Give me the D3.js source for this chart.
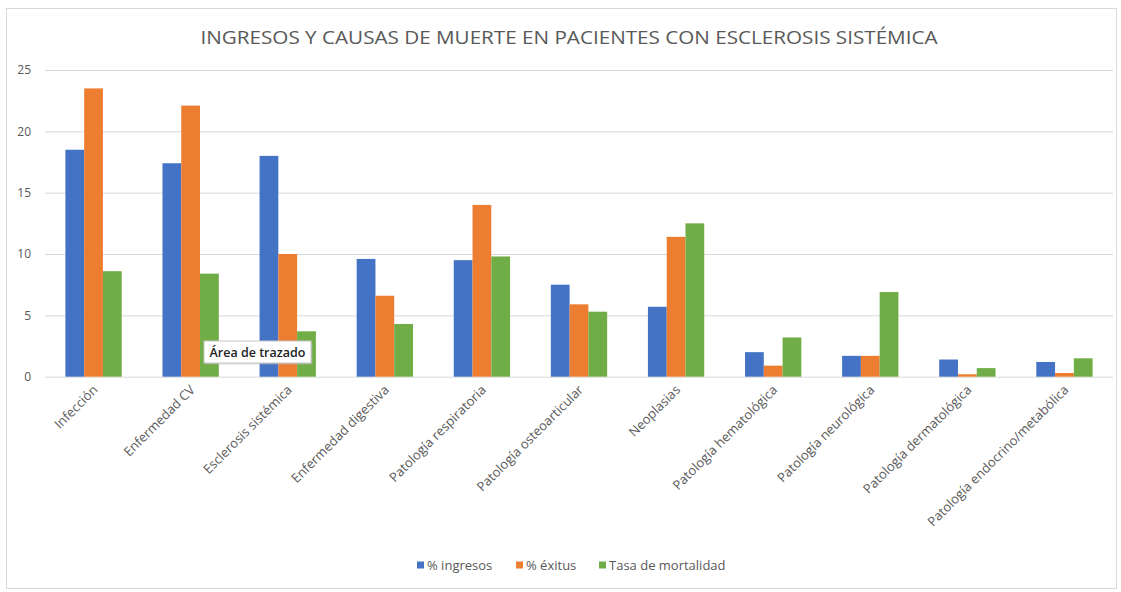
<!DOCTYPE html>
<html>
<head>
<meta charset="utf-8">
<script src="https://cdn.jsdelivr.net/npm/d3@7"></script>
<style>
  body { margin: 0; background: #fff; }
  svg text { font-family: "Open Sans", "Noto Sans", sans-serif; }
</style>
</head>
<body>
<div id="chart"></div>
<script>
// categories and series
const categories = ["Infección", "Enfermedad CV", "Esclerosis sistémica", "Enfermedad digestiva",
  "Patología respiratoria", "Patología osteoarticular", "Neoplasias", "Patología hematológica",
  "Patología neurológica", "Patología dermatológica", "Patología endocrino/metabólica"];
const seriesNames = ["% ingresos", "% éxitus", "Tasa de mortalidad"];
const ingresos = [18.5, 17.4, 18.0, 9.6, 9.5, 7.5, 5.7, 2.0, 1.7, 1.4, 1.2];
const exitus = [23.5, 22.1, 10.0, 6.6, 14.0, 5.9, 11.4, 0.9, 1.7, 0.2, 0.3];
const mortalidad = [8.6, 8.4, 3.7, 4.3, 9.8, 5.3, 12.5, 3.2, 6.9, 0.7, 1.5];
const yTicks = [0, 5, 10, 15, 20, 25];
const colors = ["#4472C4", "#ED7D31", "#70AD47"];
const title = "INGRESOS Y CAUSAS DE MUERTE EN PACIENTES CON ESCLEROSIS SISTÉMICA";

const width = 1121, height = 592;
const plotLeft = 45, plotRight = 1113, plotTop = 70, plotBottom = 376.7;

const rows = categories.map((c, i) => ({
  cat: c,
  vals: [ingresos[i], exitus[i], mortalidad[i]]
}));

const svg = d3.select("#chart").append("svg")
  .attr("width", width)
  .attr("height", height);

// outer chart border
svg.append("rect")
  .attr("x", 6.5).attr("y", 8.5)
  .attr("width", 1110).attr("height", 580)
  .attr("fill", "#fff")
  .attr("stroke", "#d9d9d9");

svg.append("text")
  .attr("x", 569).attr("y", 44)
  .attr("text-anchor", "middle")
  .attr("fill", "#595959")
  .style("font-size", "18px")
  .attr("textLength", 737)
  .attr("lengthAdjust", "spacingAndGlyphs")
  .text(title);

let x0 = d3.scaleBand()
  .domain(categories)
  .range([plotLeft, plotRight])
  .paddingInner(0.42)
  .paddingOuter(0.21);

let x1 = d3.scaleBand()
  .domain(d3.range(seriesNames.length))
  .range([0, x0.bandwidth()]);

let y = d3.scaleLinear()
  .domain([0, 25])
  .range([plotBottom, plotTop]);

// gridlines
svg.append("g")
  .attr("transform", `translate(${plotLeft},0)`)
  .call(d3.axisLeft(y).tickValues(yTicks).tickSize(-(plotRight - plotLeft)).tickFormat(""))
  .call(g => g.select(".domain").remove())
  .call(g => g.selectAll("line").attr("stroke", "#d9d9d9"));

// y labels
svg.append("g")
  .attr("transform", `translate(${plotLeft},0)`)
  .call(d3.axisLeft(y).tickValues(yTicks).tickSize(0).tickPadding(14))
  .call(g => g.select(".domain").remove())
  .call(g => g.selectAll("text").attr("fill", "#595959").style("font-size", "12px"));

// bars
svg.append("g").selectAll("g")
  .data(rows)
  .enter()
  .append("g")
  .attr("transform", d => `translate(${x0(d.cat)},0)`)
  .selectAll("rect")
  .data(d => d.vals)
  .enter()
  .append("rect")
  .attr("x", (d, i) => x1(i))
  .attr("y", d => y(d))
  .attr("width", x1.bandwidth())
  .attr("height", d => y(0) - y(d))
  .attr("fill", (d, i) => colors[i]);

// x labels, rotated
svg.append("g").selectAll("text")
  .data(categories)
  .enter()
  .append("text")
  .attr("transform", d => `translate(${x0(d) + x0.bandwidth() / 2 + 5},${plotBottom + 14}) rotate(-45)`)
  .attr("text-anchor", "end")
  .attr("fill", "#595959")
  .style("font-size", "13px")
  .text(d => d);

// legend
const legendX = [417, 516, 599];
let legend = svg.append("g").selectAll("g")
  .data(seriesNames)
  .enter()
  .append("g")
  .attr("transform", (d, i) => `translate(${legendX[i]},565)`);

legend.append("rect")
  .attr("x", 0).attr("y", -3.5)
  .attr("width", 7).attr("height", 7)
  .attr("fill", (d, i) => colors[i]);

legend.append("text")
  .attr("x", 10).attr("y", 4.5)
  .attr("fill", "#595959")
  .style("font-size", "13px")
  .text(d => d);

// hover tooltip visible in the screenshot
let tip = svg.append("g").attr("transform", "translate(204,341)");
tip.append("rect")
  .attr("x", 1.5).attr("y", 1.5)
  .attr("width", 107).attr("height", 22)
  .attr("fill", "#bbb").attr("opacity", 0.5);
tip.append("rect")
  .attr("width", 107).attr("height", 22)
  .attr("fill", "#fff")
  .attr("stroke", "#c8c8c8");
tip.append("text")
  .attr("x", 53.5).attr("y", 15.5)
  .attr("text-anchor", "middle")
  .attr("fill", "#222")
  .style("font-size", "12.5px")
  .style("font-weight", "600")
  .text("Área de trazado");
</script>
</body>
</html>
